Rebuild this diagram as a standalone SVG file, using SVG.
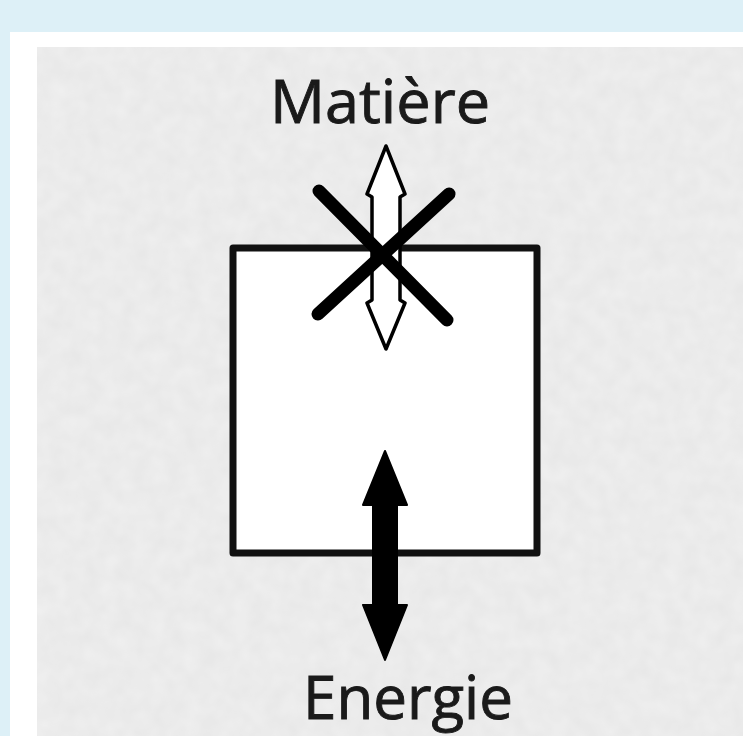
<svg xmlns="http://www.w3.org/2000/svg" width="743" height="736" viewBox="0 0 743 736">
<style>
.lbl{font-family:"Open Sans","Noto Sans",sans-serif;font-size:60px;fill:#1a1a1a;stroke:#1a1a1a;stroke-width:0.9}
.box{fill:#ffffff;stroke:#111;stroke-width:7;stroke-linejoin:round}
.cross{stroke:#000;stroke-width:13;stroke-linecap:round;fill:none}
.hollow{fill:#fff;stroke:#000;stroke-width:3.5;stroke-linejoin:round}
.solid{fill:#000;stroke:#000;stroke-width:2;stroke-linejoin:round}
</style>
<defs>
<filter id="tex" x="0" y="0" width="100%" height="100%">
<feTurbulence type="fractalNoise" baseFrequency="0.06" numOctaves="2" seed="3" result="n"/>
<feColorMatrix in="n" type="matrix" values="0 0 0 0 0.89  0 0 0 0 0.89  0 0 0 0 0.89  0 0 0 -0.9 0.75"/>
<feComposite in2="SourceGraphic" operator="in"/>
</filter>
</defs>
<rect x="0" y="0" width="743" height="736" fill="#ddf0f7"/>
<rect x="10" y="32" width="733" height="704" fill="#ffffff"/>
<rect x="37" y="47" width="706" height="689" fill="#e8e8e8"/>
<rect x="37" y="47" width="706" height="689" fill="#dadada" filter="url(#tex)"/>
<g id="system">
<rect class="box" x="233" y="248" width="304" height="305"/>
</g>
<g id="matiere">
<text class="lbl" x="380" y="123" text-anchor="middle" textLength="220" lengthAdjust="spacingAndGlyphs">Matière</text>
</g>
<g id="energie">
<text class="lbl" x="408" y="719" text-anchor="middle" textLength="210" lengthAdjust="spacingAndGlyphs">Energie</text>
</g>
<g id="connectors">
<polygon class="hollow" points="386,146 405,194 400,197 400,300 405,303 386,349 367,303 372,300 372,197 367,194"/>
<line class="cross" x1="319" y1="191" x2="447" y2="320"/>
<line class="cross" x1="449" y1="194" x2="318" y2="314"/>
<polygon class="solid" points="385,451 407,505 397,505 397,605 407,605 385,660 363,605 373,605 373,505 363,505"/>
</g>
</svg>
